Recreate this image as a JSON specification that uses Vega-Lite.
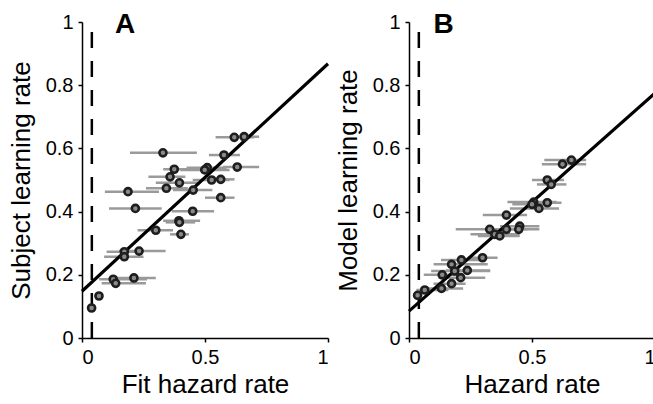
{
  "$schema": "https://vega.github.io/schema/vega-lite/v6.json",
  "padding": {"left": 8, "top": 10, "right": 0, "bottom": 5},
  "spacing": 0,
  "config": {
    "font": "Liberation Sans",
    "view": {"stroke": null},
    "axis": {
      "grid": false,
      "domainColor": "black",
      "domainWidth": 1.5,
      "tickColor": "black",
      "tickWidth": 1.5,
      "tickSize": 4,
      "labelPadding": 5,
      "labelFontSize": 20,
      "labelColor": "black",
      "titleFontSize": 26,
      "titleFontWeight": "normal",
      "titleColor": "black",
      "format": "~g"
    },
    "axisX": {"titlePadding": 4},
    "axisY": {"titlePadding": 11}
  },
  "datasets": {
    "ptsA": [
      {"x": 0.329, "y": 0.586, "lo": 0.195, "hi": 0.467},
      {"x": 0.619, "y": 0.635, "lo": 0.543, "hi": 0.70},
      {"x": 0.659, "y": 0.637, "lo": 0.60, "hi": 0.72},
      {"x": 0.577, "y": 0.579, "lo": 0.516, "hi": 0.642},
      {"x": 0.375, "y": 0.534, "lo": 0.33, "hi": 0.49},
      {"x": 0.509, "y": 0.539, "lo": 0.425, "hi": 0.588},
      {"x": 0.499, "y": 0.532, "lo": 0.40, "hi": 0.60},
      {"x": 0.631, "y": 0.541, "lo": 0.573, "hi": 0.72},
      {"x": 0.358, "y": 0.510, "lo": 0.27, "hi": 0.42},
      {"x": 0.396, "y": 0.491, "lo": 0.30, "hi": 0.48},
      {"x": 0.343, "y": 0.474, "lo": 0.26, "hi": 0.43},
      {"x": 0.527, "y": 0.500, "lo": 0.45, "hi": 0.60},
      {"x": 0.564, "y": 0.502, "lo": 0.50, "hi": 0.62},
      {"x": 0.452, "y": 0.468, "lo": 0.37, "hi": 0.53},
      {"x": 0.187, "y": 0.463, "lo": 0.093, "hi": 0.313},
      {"x": 0.564, "y": 0.444, "lo": 0.50, "hi": 0.62},
      {"x": 0.217, "y": 0.410, "lo": 0.11, "hi": 0.324},
      {"x": 0.450, "y": 0.401, "lo": 0.365, "hi": 0.537},
      {"x": 0.394, "y": 0.371, "lo": 0.33, "hi": 0.48},
      {"x": 0.396, "y": 0.366, "lo": 0.34, "hi": 0.46},
      {"x": 0.300, "y": 0.341, "lo": 0.226, "hi": 0.37},
      {"x": 0.402, "y": 0.328, "lo": 0.358, "hi": 0.435},
      {"x": 0.172, "y": 0.273, "lo": 0.10, "hi": 0.243},
      {"x": 0.172, "y": 0.257, "lo": 0.09, "hi": 0.25},
      {"x": 0.232, "y": 0.275, "lo": 0.15, "hi": 0.34},
      {"x": 0.127, "y": 0.186, "lo": 0.07, "hi": 0.264},
      {"x": 0.137, "y": 0.173, "lo": 0.08, "hi": 0.26},
      {"x": 0.211, "y": 0.190, "lo": 0.14, "hi": 0.30},
      {"x": 0.069, "y": 0.133, "lo": 0.069, "hi": 0.069},
      {"x": 0.039, "y": 0.095, "lo": 0.039, "hi": 0.039}
    ],
    "ptsB": [
      {"x": 0.624, "y": 0.550, "lo": 0.54, "hi": 0.72},
      {"x": 0.660, "y": 0.563, "lo": 0.55, "hi": 0.72},
      {"x": 0.562, "y": 0.500, "lo": 0.50, "hi": 0.63},
      {"x": 0.578, "y": 0.486, "lo": 0.52, "hi": 0.64},
      {"x": 0.507, "y": 0.430, "lo": 0.40, "hi": 0.60},
      {"x": 0.500, "y": 0.423, "lo": 0.42, "hi": 0.55},
      {"x": 0.562, "y": 0.428, "lo": 0.50, "hi": 0.62},
      {"x": 0.528, "y": 0.410, "lo": 0.41, "hi": 0.61},
      {"x": 0.396, "y": 0.389, "lo": 0.30, "hi": 0.48},
      {"x": 0.328, "y": 0.344, "lo": 0.19, "hi": 0.43},
      {"x": 0.349, "y": 0.328, "lo": 0.25, "hi": 0.45},
      {"x": 0.369, "y": 0.323, "lo": 0.28, "hi": 0.45},
      {"x": 0.396, "y": 0.344, "lo": 0.32, "hi": 0.48},
      {"x": 0.450, "y": 0.354, "lo": 0.37, "hi": 0.53},
      {"x": 0.446, "y": 0.344, "lo": 0.37, "hi": 0.53},
      {"x": 0.213, "y": 0.247, "lo": 0.13, "hi": 0.31},
      {"x": 0.299, "y": 0.254, "lo": 0.24, "hi": 0.36},
      {"x": 0.173, "y": 0.233, "lo": 0.10, "hi": 0.32},
      {"x": 0.186, "y": 0.212, "lo": 0.09, "hi": 0.33},
      {"x": 0.135, "y": 0.200, "lo": 0.06, "hi": 0.22},
      {"x": 0.210, "y": 0.191, "lo": 0.12, "hi": 0.31},
      {"x": 0.237, "y": 0.214, "lo": 0.15, "hi": 0.33},
      {"x": 0.173, "y": 0.172, "lo": 0.10, "hi": 0.23},
      {"x": 0.132, "y": 0.157, "lo": 0.07, "hi": 0.22},
      {"x": 0.064, "y": 0.152, "lo": 0.03, "hi": 0.16},
      {"x": 0.035, "y": 0.135, "lo": 0.035, "hi": 0.035}
    ],
    "fitA": [{"x": 0, "y": 0.148}, {"x": 1, "y": 0.868}],
    "fitB": [{"x": 0, "y": 0.085}, {"x": 1, "y": 0.775}],
    "dash": [{"x": 0.04, "y0": 0, "y1": 1}],
    "labA": [{"x": 0.134, "y": 0.992, "t": "A"}],
    "labB": [{"x": 0.1, "y": 0.992, "t": "B"}]
  },
  "hconcat": [
    {
      "width": 246,
      "height": 316,
      "layer": [
        {
          "data": {"name": "ptsA"},
          "mark": {"type": "rule", "color": "#9a9a9a", "strokeWidth": 2.5},
          "encoding": {
            "x": {"field": "lo", "type": "quantitative", "scale": {"domain": [0, 1], "nice": false}, "axis": {"values": [0, 0.5, 1], "title": "Fit hazard rate"}},
            "x2": {"field": "hi"},
            "y": {"field": "y", "type": "quantitative", "scale": {"domain": [0, 1], "nice": false}, "axis": {"values": [0, 0.2, 0.4, 0.6, 0.8, 1], "title": "Subject learning rate"}}
          }
        },
        {
          "data": {"name": "dash"},
          "mark": {"type": "rule", "color": "black", "strokeWidth": 2.5, "strokeDash": [16, 13]},
          "encoding": {
            "x": {"field": "x", "type": "quantitative"},
            "y": {"field": "y0", "type": "quantitative"},
            "y2": {"field": "y1"}
          }
        },
        {
          "data": {"name": "fitA"},
          "mark": {"type": "line", "color": "black", "strokeWidth": 3.2},
          "encoding": {
            "x": {"field": "x", "type": "quantitative"},
            "y": {"field": "y", "type": "quantitative"}
          }
        },
        {
          "data": {"name": "ptsA"},
          "mark": {"type": "point", "shape": "circle", "filled": false, "fill": "#8a8a8a", "fillOpacity": 1, "stroke": "#1e1e1e", "strokeWidth": 2.6, "size": 50, "opacity": 1},
          "encoding": {
            "x": {"field": "x", "type": "quantitative"},
            "y": {"field": "y", "type": "quantitative"}
          }
        },
        {
          "data": {"name": "labA"},
          "mark": {"type": "text", "fontSize": 28, "fontWeight": "bold", "align": "left", "baseline": "middle", "color": "black"},
          "encoding": {
            "x": {"field": "x", "type": "quantitative"},
            "y": {"field": "y", "type": "quantitative"},
            "text": {"field": "t"}
          }
        }
      ]
    },
    {
      "width": 246,
      "height": 316,
      "layer": [
        {
          "data": {"name": "ptsB"},
          "mark": {"type": "rule", "color": "#9a9a9a", "strokeWidth": 2.5},
          "encoding": {
            "x": {"field": "lo", "type": "quantitative", "scale": {"domain": [0, 1], "nice": false}, "axis": {"values": [0, 0.5, 1], "title": "Hazard rate"}},
            "x2": {"field": "hi"},
            "y": {"field": "y", "type": "quantitative", "scale": {"domain": [0, 1], "nice": false}, "axis": {"values": [0, 0.2, 0.4, 0.6, 0.8, 1], "title": "Model learning rate"}}
          }
        },
        {
          "data": {"name": "dash"},
          "mark": {"type": "rule", "color": "black", "strokeWidth": 2.5, "strokeDash": [16, 13]},
          "encoding": {
            "x": {"field": "x", "type": "quantitative"},
            "y": {"field": "y0", "type": "quantitative"},
            "y2": {"field": "y1"}
          }
        },
        {
          "data": {"name": "fitB"},
          "mark": {"type": "line", "color": "black", "strokeWidth": 3.2},
          "encoding": {
            "x": {"field": "x", "type": "quantitative"},
            "y": {"field": "y", "type": "quantitative"}
          }
        },
        {
          "data": {"name": "ptsB"},
          "mark": {"type": "point", "shape": "circle", "filled": false, "fill": "#8a8a8a", "fillOpacity": 1, "stroke": "#1e1e1e", "strokeWidth": 2.6, "size": 50, "opacity": 1},
          "encoding": {
            "x": {"field": "x", "type": "quantitative"},
            "y": {"field": "y", "type": "quantitative"}
          }
        },
        {
          "data": {"name": "labB"},
          "mark": {"type": "text", "fontSize": 28, "fontWeight": "bold", "align": "left", "baseline": "middle", "color": "black"},
          "encoding": {
            "x": {"field": "x", "type": "quantitative"},
            "y": {"field": "y", "type": "quantitative"},
            "text": {"field": "t"}
          }
        }
      ]
    }
  ]
}
